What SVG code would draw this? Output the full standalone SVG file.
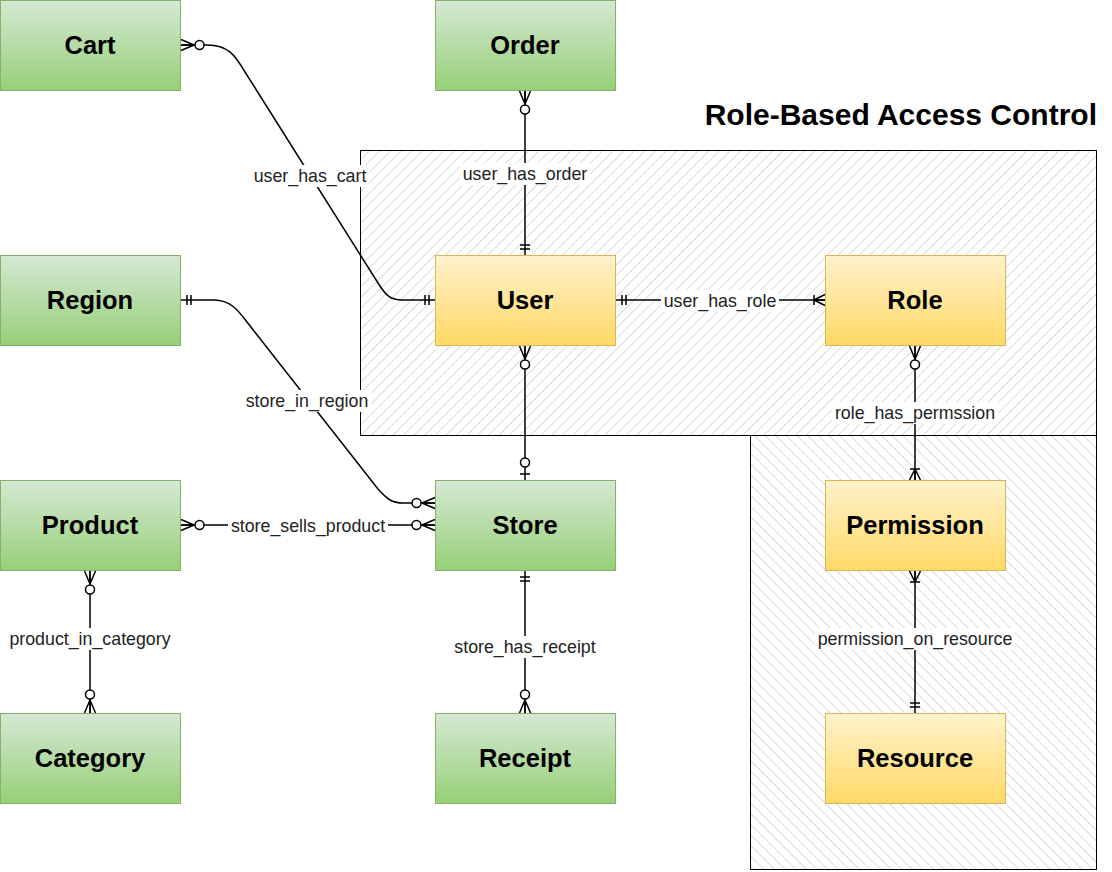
<svg xmlns="http://www.w3.org/2000/svg" width="1112" height="872" viewBox="0 0 1112 872">
<style>
.grp{stroke:#000;stroke-width:1;}
.green rect{fill:url(#gGreen);stroke:#82b366;stroke-width:1;}
.yellow rect{fill:url(#gYellow);stroke:#d6b656;stroke-width:1;}
.node text{font-family:"Liberation Sans",Arial,sans-serif;font-weight:bold;font-size:25.5px;fill:#000;text-anchor:middle;}
.edge{fill:none;stroke:#000;stroke-width:1.5;}
.lbl rect{fill:#fff;}
.lbl text{font-family:"Liberation Sans",Arial,sans-serif;font-size:17.8px;fill:#222;text-anchor:middle;}
.title{font-family:"Liberation Sans",Arial,sans-serif;font-weight:bold;font-size:30px;fill:#000;text-anchor:end;}
.mk{fill:none;stroke:#000;stroke-width:1.5;}
.mkc{fill:#fff;stroke:#000;stroke-width:1.5;}
</style>
<defs>
<linearGradient id="gGreen" x1="0" y1="0" x2="0" y2="1"><stop offset="0" stop-color="#d5e8d4"/><stop offset="1" stop-color="#97d077"/></linearGradient>
<linearGradient id="gYellow" x1="0" y1="0" x2="0" y2="1"><stop offset="0" stop-color="#fff2cc"/><stop offset="1" stop-color="#ffd966"/></linearGradient>
<pattern id="hatchA" patternUnits="userSpaceOnUse" width="7.5" height="7.5" patternTransform="rotate(45)"><line x1="0" y1="0" x2="0" y2="7.5" stroke="#c4c4c4" stroke-width="1.2"/></pattern>
<pattern id="hatchB" patternUnits="userSpaceOnUse" width="7.5" height="7.5" patternTransform="rotate(-45)"><line x1="0" y1="0" x2="0" y2="7.5" stroke="#c4c4c4" stroke-width="1.2"/></pattern>
<marker id="zeroMany" viewBox="-30 -10 32 20" refX="0" refY="0" markerWidth="32" markerHeight="20" markerUnits="userSpaceOnUse" orient="auto-start-reverse" overflow="visible">
<path class="mk" d="M-13,0 L0,-5.5 M-13,0 L0,0 M-13,0 L0,5.5"/>
<circle class="mkc" cx="-18.5" cy="0" r="4.5"/>
</marker>
<marker id="mandOne" viewBox="-30 -10 32 20" refX="0" refY="0" markerWidth="32" markerHeight="20" markerUnits="userSpaceOnUse" orient="auto-start-reverse" overflow="visible">
<path class="mk" d="M-6,-5 V5 M-10,-5 V5"/>
</marker>
<marker id="oneMany" viewBox="-30 -10 32 20" refX="0" refY="0" markerWidth="32" markerHeight="20" markerUnits="userSpaceOnUse" orient="auto-start-reverse" overflow="visible">
<path class="mk" d="M-11,0 L0,-5.5 M-11,0 L0,0 M-11,0 L0,5.5 M-11,-5 V5"/>
</marker>
<marker id="zeroOne" viewBox="-30 -10 32 20" refX="0" refY="0" markerWidth="32" markerHeight="20" markerUnits="userSpaceOnUse" orient="auto-start-reverse" overflow="visible">
<path class="mk" d="M-6,-5 V5"/>
<circle class="mkc" cx="-17.5" cy="0" r="4.5"/>
</marker>
</defs>
<rect width="1112" height="872" fill="#fff"/>
<g id="rbac-area">
<rect x="360.5" y="150.5" width="736" height="285" fill="url(#hatchA)" class="grp"/>
<rect x="750.5" y="435.5" width="346" height="434" fill="url(#hatchB)" class="grp"/>
<text class="title" x="1097" y="125">Role-Based Access Control</text>
</g>
<g id="node-cart" class="node green"><rect x="0.5" y="0.5" width="180" height="90"/><text x="90" y="54">Cart</text></g>
<g id="node-order" class="node green"><rect x="435.5" y="0.5" width="180" height="90"/><text x="525" y="54">Order</text></g>
<g id="node-region" class="node green"><rect x="0.5" y="255.5" width="180" height="90"/><text x="90" y="309">Region</text></g>
<g id="node-user" class="node yellow"><rect x="435.5" y="255.5" width="180" height="90"/><text x="525" y="309">User</text></g>
<g id="node-role" class="node yellow"><rect x="825.5" y="255.5" width="180" height="90"/><text x="915" y="309">Role</text></g>
<g id="node-product" class="node green"><rect x="0.5" y="480.5" width="180" height="90"/><text x="90" y="534">Product</text></g>
<g id="node-store" class="node green"><rect x="435.5" y="480.5" width="180" height="90"/><text x="525" y="534">Store</text></g>
<g id="node-permission" class="node yellow"><rect x="825.5" y="480.5" width="180" height="90"/><text x="915" y="534">Permission</text></g>
<g id="node-category" class="node green"><rect x="0.5" y="713.5" width="180" height="90"/><text x="90" y="767">Category</text></g>
<g id="node-receipt" class="node green"><rect x="435.5" y="713.5" width="180" height="90"/><text x="525" y="767">Receipt</text></g>
<g id="node-resource" class="node yellow"><rect x="825.5" y="713.5" width="180" height="90"/><text x="915" y="767">Resource</text></g>
<g id="connectors">
<path class="edge" d="M181,45 H207 C228,45 235,55 245,72 L378,283 C386,296 391,300 402,300 H435" marker-start="url(#zeroMany)" marker-end="url(#mandOne)"/>
<path class="edge" d="M525,91 V255" marker-start="url(#zeroMany)" marker-end="url(#mandOne)"/>
<path class="edge" d="M181,300 H214 C230,300 238,310 247,322 L378,489 C387,499 392,503 403,503 H435" marker-start="url(#mandOne)" marker-end="url(#zeroMany)"/>
<path class="edge" d="M616,300 H825" marker-start="url(#mandOne)" marker-end="url(#oneMany)"/>
<path class="edge" d="M525,346 V480" marker-start="url(#zeroMany)" marker-end="url(#zeroOne)"/>
<path class="edge" d="M181,525 H435" marker-start="url(#zeroMany)" marker-end="url(#zeroMany)"/>
<path class="edge" d="M915,346 V480" marker-start="url(#zeroMany)" marker-end="url(#oneMany)"/>
<path class="edge" d="M90,571 V713" marker-start="url(#zeroMany)" marker-end="url(#zeroMany)"/>
<path class="edge" d="M525,571 V713" marker-start="url(#mandOne)" marker-end="url(#zeroMany)"/>
<path class="edge" d="M915,571 V713" marker-start="url(#oneMany)" marker-end="url(#mandOne)"/>
<g class="lbl">
<rect x="251" y="165" width="118" height="22"/><text x="310" y="182">user_has_cart</text>
<rect x="460" y="163" width="130" height="22"/><text x="525" y="180">user_has_order</text>
<rect x="661" y="290" width="118" height="22"/><text x="720" y="307">user_has_role</text>
<rect x="243" y="390" width="128" height="22"/><text x="307" y="407">store_in_region</text>
<rect x="832" y="402" width="166" height="22"/><text x="915" y="419">role_has_permssion</text>
<rect x="228" y="515" width="160" height="22"/><text x="308" y="532">store_sells_product</text>
<rect x="7" y="628" width="166" height="22"/><text x="90" y="645">product_in_category</text>
<rect x="451" y="636" width="148" height="22"/><text x="525" y="653">store_has_receipt</text>
<rect x="815" y="628" width="200" height="22"/><text x="915" y="645">permission_on_resource</text>
</g>
</g>
</svg>
